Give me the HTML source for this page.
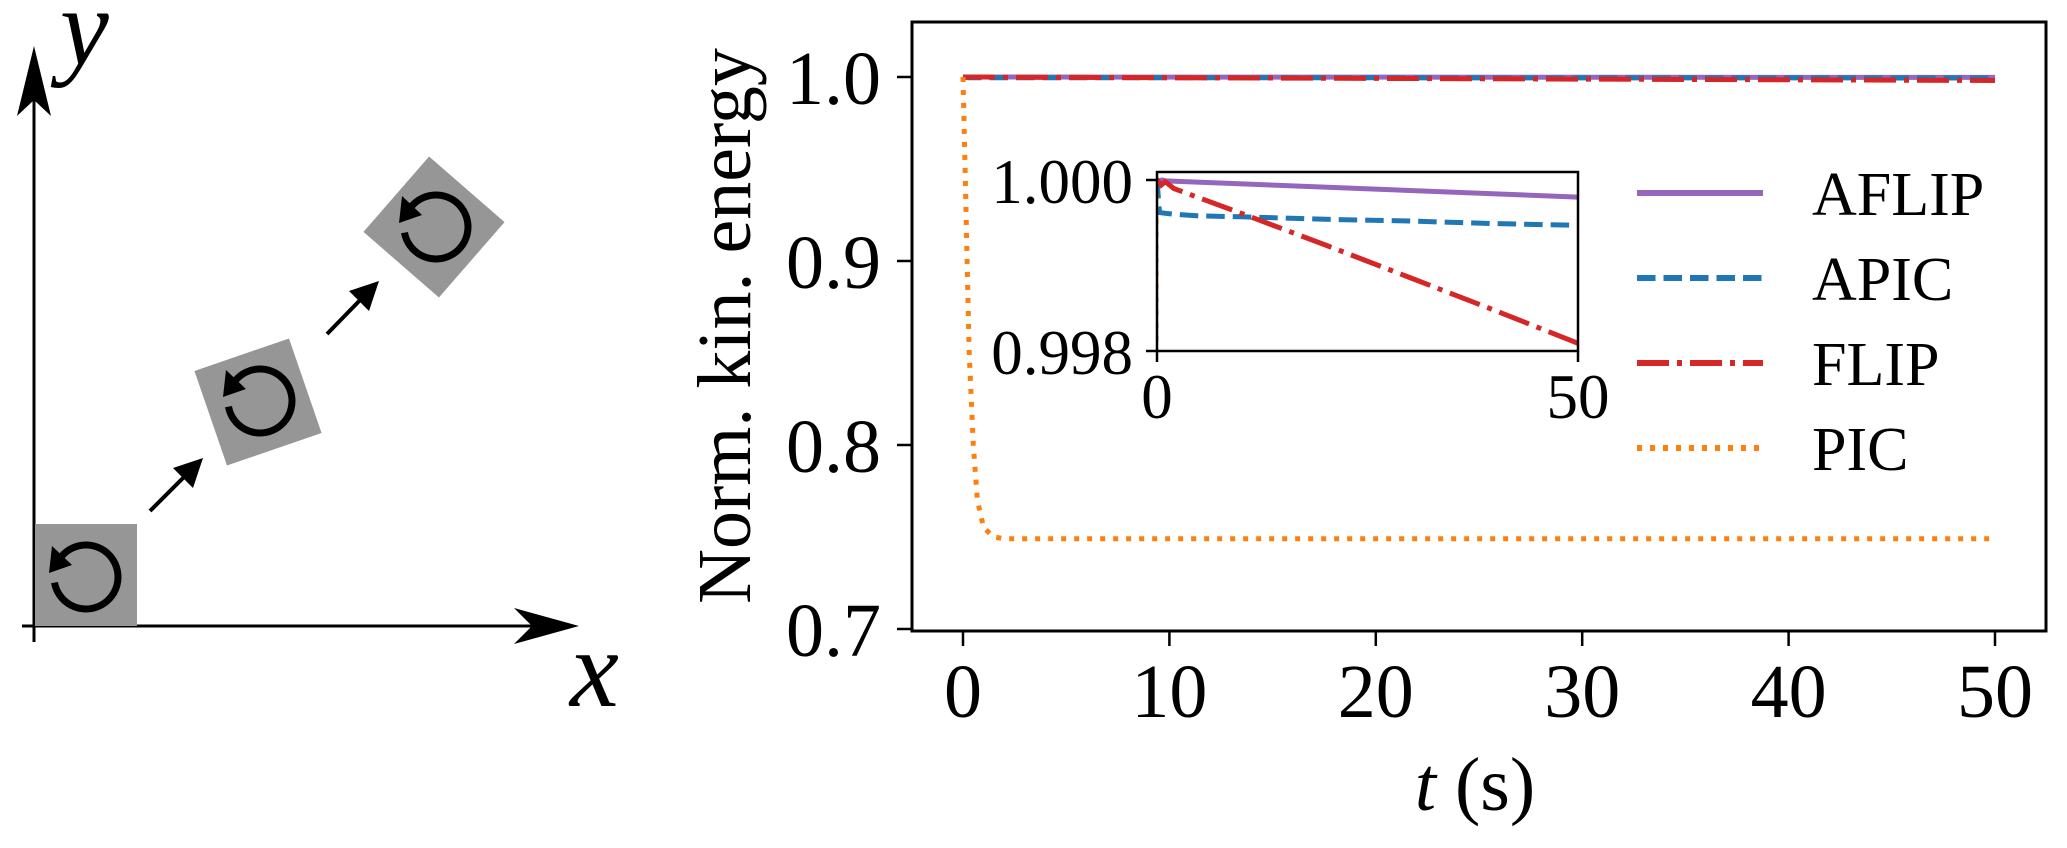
<!DOCTYPE html>
<html><head><meta charset="utf-8"><style>
html,body{margin:0;padding:0;background:#fff;overflow:hidden;width:2067px;height:848px;}
svg{display:block;}
text{font-family:"Liberation Serif","DejaVu Serif",serif;fill:#000;}
</style></head><body>
<svg id="svg" width="2067" height="848" viewBox="0 0 2067 848" xmlns="http://www.w3.org/2000/svg" font-family="Liberation Serif, serif">
<defs>
<clipPath id="mainClip"><rect x="912" y="22" width="1134" height="609"/></clipPath>
<clipPath id="insetClip"><rect x="1157" y="172" width="421" height="179"/></clipPath>
<g id="rot">
<path d="M -31.5 5.6 A 32 32 0 1 0 -24.5 -20.6" fill="none" stroke="#000" stroke-width="7"/>
<polygon points="-37,-4 -14,-12 -34,-31" fill="#000"/>
</g>
</defs>
<g>
<line x1="34" y1="642" x2="34" y2="100" stroke="#000" stroke-width="3"/>
<polygon points="34,46 17,116 34,100 51,116" fill="#000"/>
<text x="60" y="64" font-size="110" font-style="italic">y</text>
<line x1="22" y1="626" x2="540" y2="626" stroke="#000" stroke-width="3"/>
<polygon points="579,626 514,608 532,626 514,644" fill="#000"/>
<text x="570" y="706" font-size="110" font-style="italic">x</text>
<g><rect x="35" y="524" width="102" height="102" fill="#969696"/><use href="#rot" x="86" y="577"/></g>
<g transform="translate(258,402) rotate(-19)"><rect x="-50" y="-50" width="100" height="100" fill="#969696"/></g>
<use href="#rot" x="260" y="401"/>
<g transform="translate(434,227) rotate(41)"><rect x="-50" y="-50" width="100" height="100" fill="#969696"/></g>
<use href="#rot" x="436" y="227"/>
<g><line x1="150" y1="511" x2="190" y2="471" stroke="#000" stroke-width="4"/><polygon points="203,458 173,468 193,488" fill="#000"/></g>
<g><line x1="327" y1="334" x2="366" y2="294" stroke="#000" stroke-width="4"/><polygon points="379,281 349,291 369,311" fill="#000"/></g>
</g>
<g id="chart"></g>
</svg>
<script>
const tickT = [0,10,20,30,40,50];
const tickV = [1.0,0.9,0.8,0.7];
const tickVLabels = ["1.0","0.9","0.8","0.7"];
const insetTickV = [1.000,0.998];
const insetTickVLabels = ["1.000","0.998"];
const insetTickT = [0,50];
const seriesNames = ["AFLIP","APIC","FLIP","PIC"];
const aflipT = [0,0.3,0.6,1,50];
const aflipV = [1.0,0.99999,1.0,0.99999,0.9998];
const apicT = [0,0.3,1,2,5,10,20,30,40,50];
const apicV = [1.0,0.99962,0.99961,0.99960,0.99958,0.99957,0.99954,0.99952,0.99949,0.99947];
const flipT = [0,0.5,1,2,10,20,30,40,50];
const flipV = [1.0,0.99994,0.99998,0.99990,0.99961,0.99924,0.99886,0.99848,0.99809];
const picT = [0,0.1,0.2,0.3,0.5,0.7,1,1.5,2,50];
const picV = [1.0,0.95,0.9,0.85,0.8,0.77,0.755,0.75,0.749,0.749];

const NS="http://www.w3.org/2000/svg";
const chart=document.getElementById('chart');
function mk(tag,attrs,parent){const e=document.createElementNS(NS,tag);for(const k in attrs)e.setAttribute(k,attrs[k]);(parent||chart).appendChild(e);return e;}
const X=t=>963+t*20.64, Y=v=>77+(1-v)*1840;
const IX=t=>1157+t*8.42, IY=v=>180+(1-v)*85500;
const styles=[
 {c:"#9467bd",d:""},{c:"#1f77b4",d:"18.5 8"},{c:"#d62728",d:"32 8 5 8"},{c:"#ff7f0e",d:"5 8"}];
const allT=[aflipT,apicT,flipT,picT], allV=[aflipV,apicV,flipV,picV];
function poly(ts,vs,fx,fy){return ts.map((t,i)=>fx(t).toFixed(1)+","+fy(vs[i]).toFixed(1)).join(" ");}

const mg=mk('g',{'clip-path':'url(#mainClip)'});


for(let s=0;s<4;s++){
 const p=mk('polyline',{points:poly(allT[s],allV[s],X,Y),fill:'none',stroke:styles[s].c,'stroke-width':5,'stroke-dasharray':styles[s].d},mg);
 
 
}
const fr=mk('rect',{x:912,y:22,width:1134,height:609,fill:'none',stroke:'#000','stroke-width':3});


tickT.forEach(t=>{
 const l=mk('line',{x1:X(t),x2:X(t),y1:631,y2:646,stroke:'#000','stroke-width':2.5});
 
 
 const tx=mk('text',{x:X(t),y:717,'font-size':76,'text-anchor':'middle'});
 tx.textContent=t;
 
 
});
tickV.forEach((v,i)=>{
 const l=mk('line',{x1:897,x2:912,y1:Y(v),y2:Y(v),stroke:'#000','stroke-width':2.5});
 
 
 const tx=mk('text',{x:881,y:Y(v)+27,'font-size':76,'text-anchor':'end'});
 tx.textContent=tickVLabels[i];
 
 
});
const xl=mk('text',{x:1475,y:810,'font-size':76,'text-anchor':'middle'});
xl.innerHTML='<tspan font-style="italic">t</tspan> (s)';


const yl=mk('text',{x:0,y:0,'font-size':76,'text-anchor':'middle',transform:'translate(750,326) rotate(-90)'});
yl.textContent='Norm. kin. energy';



const bg=mk('rect',{x:1157,y:172,width:421,height:179,fill:'#fff'});


const ig=mk('g',{'clip-path':'url(#insetClip)'});


for(let s=0;s<4;s++){
 const p=mk('polyline',{points:poly(allT[s],allV[s],IX,IY),fill:'none',stroke:styles[s].c,'stroke-width':s==3?3:5,'stroke-dasharray':styles[s].d},ig);
 
 
}
const ifr=mk('rect',{x:1157,y:172,width:421,height:179,fill:'none',stroke:'#000','stroke-width':2.5});


insetTickV.forEach((v,i)=>{
 const l=mk('line',{x1:1146,x2:1157,y1:IY(v),y2:IY(v),stroke:'#000','stroke-width':2.5});
 
 
 const tx=mk('text',{x:1133,y:IY(v)+23,'font-size':63,'text-anchor':'end'});
 tx.textContent=insetTickVLabels[i];
 
 
});
insetTickT.forEach(t=>{
 const l=mk('line',{x1:IX(t),x2:IX(t),y1:351,y2:362,stroke:'#000','stroke-width':2.5});
 
 
 const tx=mk('text',{x:IX(t),y:418,'font-size':63,'text-anchor':'middle'});
 tx.textContent=t;
 
 
});

seriesNames.forEach((n,i)=>{
 const y=193+i*85;
 const g=mk('g',{});
 
 
 mk('line',{x1:1637,x2:1763,y1:y,y2:y,stroke:styles[i].c,'stroke-width':6,'stroke-dasharray':styles[i].d},g);
 const tx=mk('text',{x:1812,y:y+22,'font-size':62},g);
 tx.textContent=n;
});
</script>
</body></html>
